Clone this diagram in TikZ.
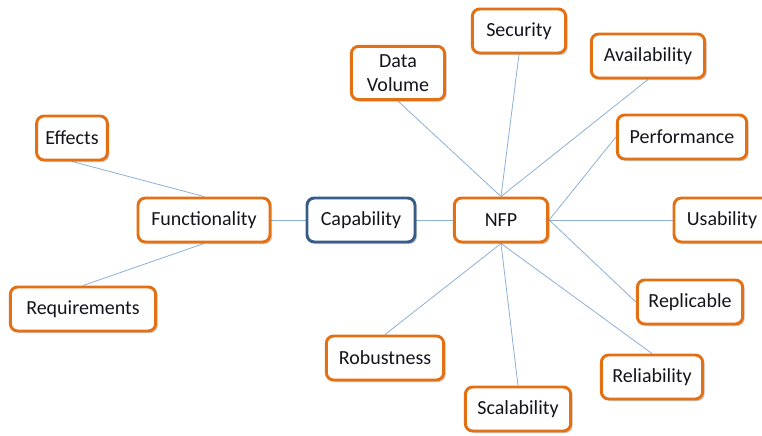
\documentclass[tikz,border=0pt]{standalone}
\usepackage{fontspec}
\setmainfont{Carlito}
\usetikzlibrary{shadows,backgrounds}
\definecolor{boxorange}{RGB}{228,112,20}
\definecolor{boxblue}{RGB}{56,93,138}
\definecolor{linkblue}{RGB}{140,175,215}
\definecolor{textdark}{RGB}{20,20,30}
\tikzset{
  x=0.75pt, y=-0.75pt,
  mapbox/.style={draw=boxorange, line width=2.2pt, rounded corners=5.5pt, fill=white,
    minimum height=33pt, inner sep=2pt, align=center, text=textdark,
    font=\fontsize{15}{18}\selectfont,
    drop shadow={shadow xshift=1.5pt, shadow yshift=-1.5pt, opacity=0.35, fill=black!60}},
  corebox/.style={mapbox, draw=boxblue},
  link/.style={draw=linkblue, line width=0.6pt},
}
\begin{document}
\begin{tikzpicture}
\useasboundingbox (0,0) rectangle (762,435);
\clip (0,0) rectangle (762,435);
% nodes
\node[mapbox, minimum width=53pt] (eff) at (72,138) {Effects};
\node[mapbox, minimum width=99pt] (fun) at (204,220) {Functionality};
\node[mapbox, minimum width=109pt] (req) at (83,309) {Requirements};
\node[corebox, minimum width=81pt] (cap) at (361,220) {Capability};
\node[mapbox, minimum width=70pt] (nfp) at (501,220) {NFP};
\node[mapbox, minimum width=70pt, minimum height=40pt] (dv) at (398,73) {Data\\Volume};
\node[mapbox, minimum width=70pt] (sec) at (519,31) {Security};
\node[mapbox, minimum width=85pt] (ava) at (648,56) {Availability};
\node[mapbox, minimum width=97pt] (per) at (682,137) {Performance};
\node[mapbox, minimum width=72pt] (usa) at (722,220) {Usability};
\node[mapbox, minimum width=79pt] (rep) at (690,302) {Replicable};
\node[mapbox, minimum width=76pt] (rel) at (652,377) {Reliability};
\node[mapbox, minimum width=79pt] (sca) at (518,409) {Scalability};
\node[mapbox, minimum width=88pt] (rob) at (385,358) {Robustness};
% connectors behind nodes
\begin{pgfonlayer}{background}
\draw[link] (eff.south) -- (fun.north);
\draw[link] (req.north) -- (fun.south);
\draw[link] (fun.east) -- (cap.west);
\draw[link] (cap.east) -- (nfp.west);
\draw[link] (dv.south) -- (nfp.north);
\draw[link] (sec.south) -- (nfp.north);
\draw[link] (ava.south) -- (nfp.north);
\draw[link] (per.west) -- (nfp.east);
\draw[link] (usa.west) -- (nfp.east);
\draw[link] (rep.west) -- (nfp.east);
\draw[link] (rel.north) -- (nfp.south);
\draw[link] (sca.north) -- (nfp.south);
\draw[link] (rob.north) -- (nfp.south);
\end{pgfonlayer}
\end{tikzpicture}
\end{document}
